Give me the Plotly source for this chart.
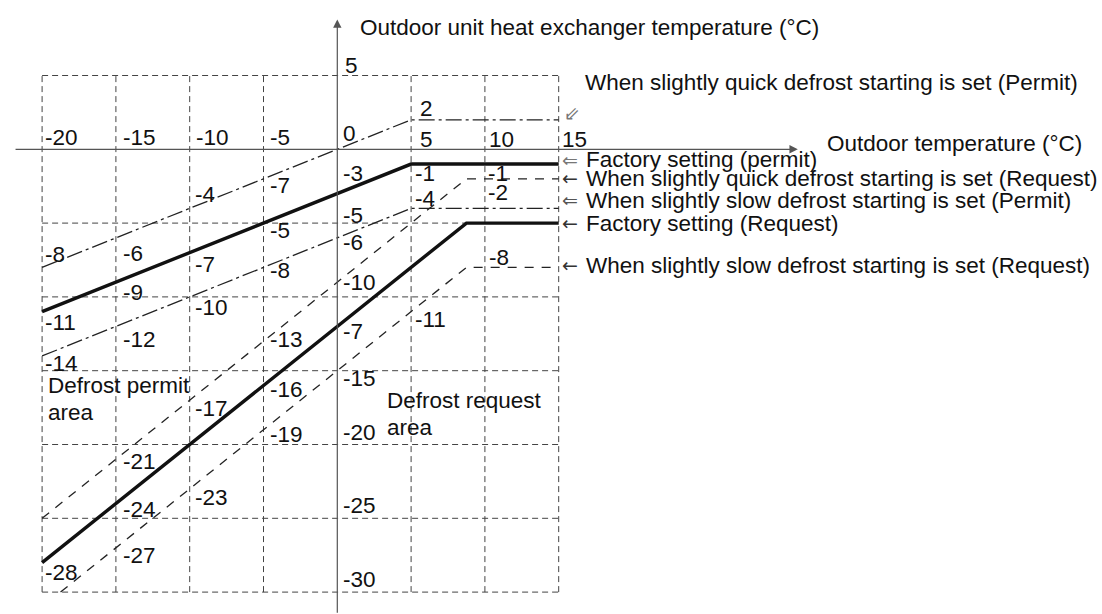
import plotly.graph_objects as go

# Outdoor temperature breakpoints (°C)
permit_x = [-20, 5, 15]
request_x = [-20, 8.75, 15]
slow_request_x = [-18.75, 8.75, 15]

# Outdoor unit heat exchanger temperature thresholds (°C)
quick_permit_y = [-8, 2, 2]
factory_permit_y = [-11, -1, -1]
slow_permit_y = [-14, -4, -4]
quick_request_y = [-25, -2, -2]
factory_request_y = [-28, -5, -5]
slow_request_y = [-30, -8, -8]

grid_x = [-20, -15, -10, -5, 5, 10, 15]
grid_y = [5, -5, -10, -15, -20, -25, -30]

FONT = "Liberation Sans, Arial, sans-serif"
INK = "#111"
FS = 22.5

fig = go.Figure()

# dashed reference grid
for gx in grid_x:
    fig.add_shape(type="line", x0=gx, x1=gx, y0=-30, y1=5, layer="below",
                  line=dict(color="#444", width=1, dash="6px,4px"))
for gy in grid_y:
    fig.add_shape(type="line", x0=-20, x1=15, y0=gy, y1=gy, layer="below",
                  line=dict(color="#444", width=1, dash="6px,4px"))

thick = dict(color=INK, width=3.4)
dashdot = dict(color="#222", width=1.3, dash="16px,4px,3px,4px")
dashed = dict(color="#222", width=1.3, dash="9px,8px")

series = [
    (permit_x, quick_permit_y, dashdot),
    (permit_x, factory_permit_y, thick),
    (permit_x, slow_permit_y, dashdot),
    (request_x, quick_request_y, dashed),
    (request_x, factory_request_y, thick),
    (slow_request_x, slow_request_y, dashed),
]
for xs, ys, ln in series:
    fig.add_trace(go.Scatter(x=xs, y=ys, mode="lines", line=ln,
                             hoverinfo="skip", showlegend=False))

# axes with arrow heads
axis_col = "#555"
fig.add_annotation(x=31.2, y=0, ax=-21.9, ay=0, axref="x", ayref="y",
                   text="", showarrow=True, arrowhead=2, arrowsize=1.4,
                   arrowwidth=1.2, arrowcolor=axis_col)
fig.add_annotation(x=0, y=8.8, ax=0, ay=-31.5, axref="x", ayref="y",
                   text="", showarrow=True, arrowhead=2, arrowsize=1.4,
                   arrowwidth=1.2, arrowcolor=axis_col)

# labels: (text, x, y) with left edge at x, vertically centred on y
labels = [
    ("-20", -19.92, 0.80), ("-15", -14.67, 0.80), ("-10", -9.71, 0.80),
    ("-5", -4.67, 0.80), ("0", 0.23, 1.04), ("5", 5.49, 0.68),
    ("10", 10.12, 0.68), ("15", 15.09, 0.68), ("5", 0.41, 5.71),
    ("-3", 0.23, -1.67), ("-5", 0.23, -4.51), ("-6", 0.23, -6.31),
    ("-10", 0.23, -9.02), ("-7", 0.23, -12.36), ("-15", 0.23, -15.56),
    ("-20", 0.23, -19.19), ("-25", 0.23, -24.15), ("-30", 0.23, -29.16),
    ("-7", -4.67, -2.47), ("-4", -9.80, -3.03), ("-5", -4.67, -5.52),
    ("-8", -19.92, -7.16), ("-6", -14.67, -7.03), ("-7", -9.80, -7.78),
    ("-8", -4.67, -8.23), ("-9", -14.67, -9.70), ("-10", -9.80, -10.72),
    ("-11", -19.92, -11.73), ("-12", -14.67, -12.87), ("-13", -4.67, -12.87),
    ("-14", -19.92, -14.53), ("-16", -4.67, -16.24), ("-17", -9.80, -17.53),
    ("-19", -4.67, -19.29), ("-21", -14.67, -21.17), ("-23", -9.80, -23.59),
    ("-24", -14.67, -24.37), ("-27", -14.67, -27.54), ("-28", -19.92, -28.67),
    ("2", 5.49, 2.78), ("-1", 5.11, -1.65), ("-1", 10.07, -1.67),
    ("-2", 10.07, -2.93), ("-4", 5.11, -3.32), ("-8", 10.16, -7.36),
    ("-11", 5.15, -11.50),
    ("Defrost permit", -19.76, -15.97), ("area", -19.76, -17.83),
    ("Defrost request", 3.23, -16.99), ("area", 3.23, -18.85),
    ("Outdoor unit heat exchanger temperature (°C)", 1.42, 8.22),
    ("Outdoor temperature (°C)", 33.04, 0.39),
    ("When slightly quick defrost starting is set (Permit)", 16.67, 4.53),
    ("Factory setting (permit)", 16.71, -0.66),
    ("When slightly quick defrost starting is set (Request)", 16.71, -2.01),
    ("When slightly slow defrost starting is set (Permit)", 16.71, -3.49),
    ("Factory setting (Request)", 16.71, -5.05),
    ("When slightly slow defrost starting is set (Request)", 16.71, -7.89),
]
for txt, lx, ly in labels:
    fig.add_annotation(x=lx, y=ly, text=txt, showarrow=False,
                       xanchor="left", yanchor="middle",
                       font=dict(family=FONT, size=FS, color=INK))

# pointer glyphs next to the series names
pointers = [
    ("⇙", 15.2, 2.46, "#777"),
    ("⇐", 15.1, -0.72, "#777"),
    ("←", 15.1, -1.95, "#333"),
    ("⇐", 15.1, -3.45, "#555"),
    ("←", 15.1, -5.00, "#333"),
    ("←", 15.1, -7.85, "#333"),
]
for txt, lx, ly, col in pointers:
    fig.add_annotation(x=lx, y=ly, text=txt, showarrow=False,
                       xanchor="left", yanchor="middle",
                       font=dict(family="DejaVu Sans", size=19, color=col))

fig.update_layout(
    width=1102, height=614,
    margin=dict(l=0, r=0, t=0, b=0),
    paper_bgcolor="white", plot_bgcolor="white",
    xaxis=dict(range=[-22.852, 51.809], visible=False, fixedrange=True),
    yaxis=dict(range=[-31.484, 10.115], visible=False, fixedrange=True),
    hovermode=False,
)

fig.write_html("out.html", config={"displayModeBar": False})
